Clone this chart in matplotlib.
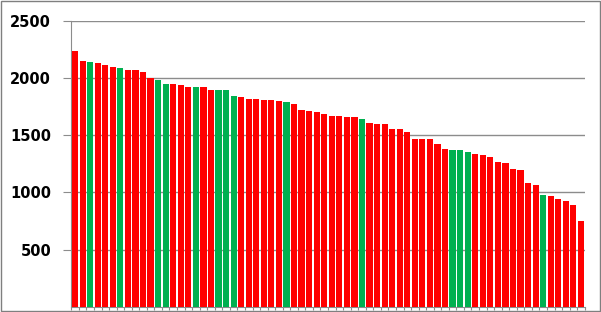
import matplotlib
matplotlib.use("Agg")
import matplotlib.pyplot as plt
from matplotlib.patches import Rectangle

import numpy as np

# values, sorted descending
values = [2234, 2150, 2138, 2129, 2112, 2094, 2086, 2068, 2068, 2051,
          1998, 1981, 1944, 1944, 1935, 1919, 1919, 1919, 1894, 1894,
          1894, 1841, 1832, 1815, 1815, 1805, 1805, 1797, 1786, 1770,
          1717, 1709, 1700, 1683, 1667, 1667, 1658, 1658, 1638, 1605,
          1596, 1596, 1552, 1552, 1525, 1463, 1463, 1463, 1420, 1376,
          1367, 1367, 1350, 1335, 1326, 1309, 1265, 1257, 1202, 1193,
          1082, 1062, 975, 966, 942, 925, 890, 750]
# which bars are green (1-based position)
green_bars = [3, 7, 12, 13, 17, 20, 21, 22, 29, 39, 51, 52, 53, 63]
y_ticks = [500, 1000, 1500, 2000, 2500]

RED = "#ff0000"
GREEN = "#00b050"
GRID = "#8c8c8c"

n = len(values)
x = np.arange(1, n + 1)
colors = [GREEN if i in green_bars else RED for i in x]

fig = plt.figure(figsize=(6.01, 3.12), dpi=100)
ax = fig.add_axes([71.3 / 601, 5.3 / 312, (584.7 - 71.3) / 601, 286 / 312])

ax.bar(x, values, width=0.82, color=colors, zorder=3)

ax.set_xlim(0.5, n + 0.5)
ax.set_ylim(0, 2500)
ax.set_yticks(y_ticks)
ax.set_yticklabels([str(v) for v in y_ticks], fontsize=10.5, fontweight="bold")
ax.set_xticks(np.arange(0.5, n + 1.5, 1))
ax.set_xticklabels([])

ax.yaxis.grid(True, color=GRID, linewidth=1, zorder=0)
ax.tick_params(axis="y", direction="out", length=5.5, color=GRID, pad=9)
ax.tick_params(axis="x", direction="out", length=2.5, color=GRID)

for side in ["top", "right"]:
    ax.spines[side].set_visible(False)
for side in ["left", "bottom"]:
    ax.spines[side].set_color(GRID)

# thin frame round the whole picture
fig.patches.append(Rectangle((0.001, 0.002), 0.997, 0.995, transform=fig.transFigure,
                             fill=False, edgecolor="#7f7f7f", linewidth=1))

fig.savefig("out.png", dpi=100)
